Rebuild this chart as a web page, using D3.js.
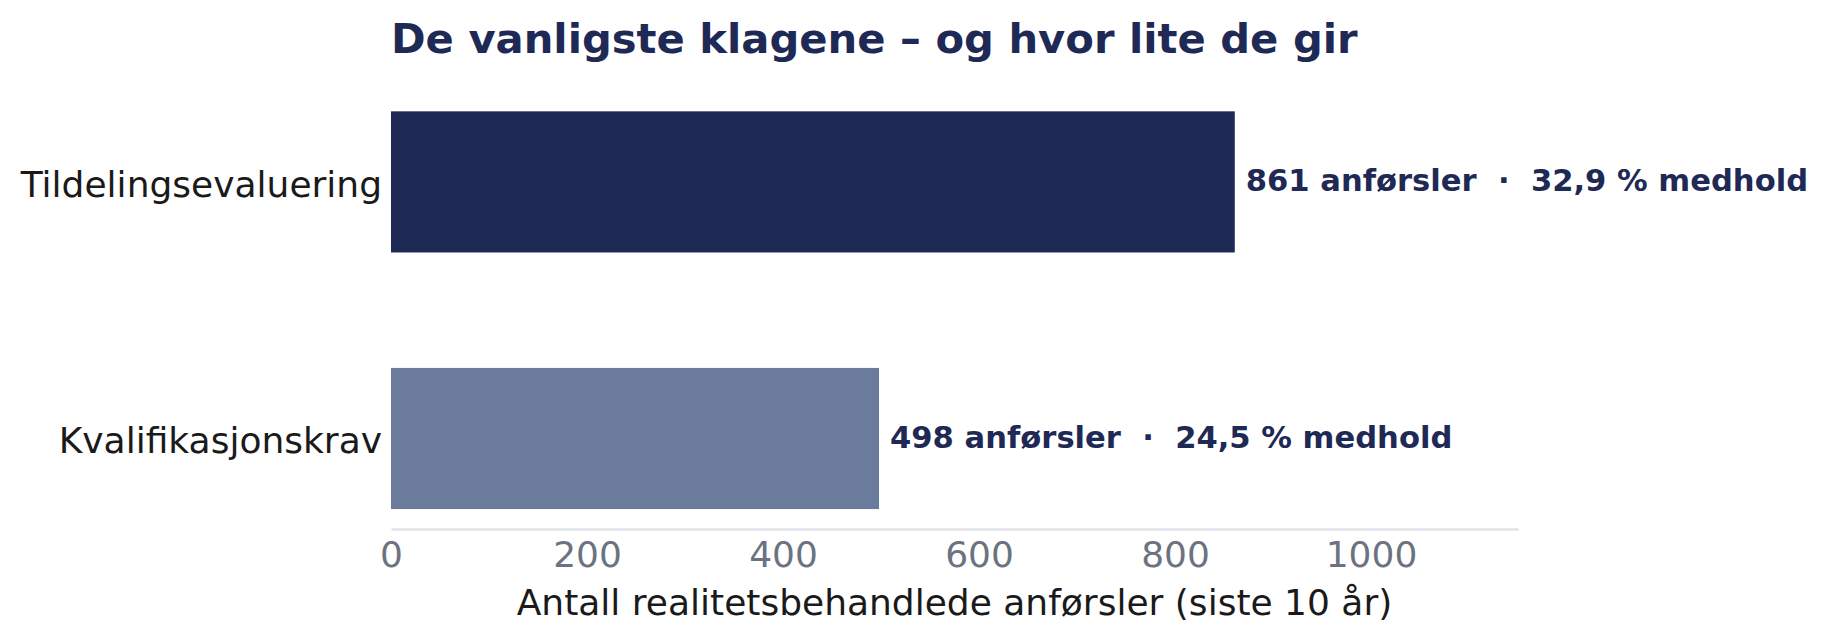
<!DOCTYPE html>
<html>
<head>
<meta charset="utf-8">
<script src="https://cdn.jsdelivr.net/npm/d3@7"></script>
<style>
    body { margin: 0; background: #fff; }
    text { font-family: "DejaVu Sans", sans-serif; }
</style>
</head>
<body>
<svg id="chart" width="1827" height="641"></svg>
<script>
    // data
    let categories = ["Tildelingsevaluering", "Kvalifikasjonskrav"]
    let counts = [861, 498]
    let medhold = [32.9, 24.5]
    let xTicks = [0, 200, 400, 600, 800, 1000]
    let xMax = 1150

    let title = "De vanligste klagene – og hvor lite de gir"
    let xTitle = "Antall realitetsbehandlede anførsler (siste 10 år)"

    let navy = "#1e2a55"
    let barColors = ["#1e2a55", "#6b7b9b"]

    let svg = d3.select("#chart")

    let xScale = d3.scaleLinear()
        .domain([0, xMax])
        .range([391, 1518])

    let yScale = d3.scalePoint()
        .domain(categories)
        .range([181.9, 438.5])

    let barH = 0.55 * yScale.step()

    let rows = categories.map((c, i) => ({ cat: c, count: counts[i], pct: medhold[i], color: barColors[i] }))

    // bars
    svg.append("g")
        .selectAll("rect")
        .data(rows)
        .enter()
        .append("rect")
        .attr("x", xScale(0))
        .attr("y", d => yScale(d.cat) - barH / 2)
        .attr("width", d => xScale(d.count) - xScale(0))
        .attr("height", barH)
        .attr("fill", d => d.color)

    // value labels
    svg.append("g")
        .selectAll("text")
        .data(rows)
        .enter()
        .append("text")
        .attr("x", d => xScale(d.count) + 11)
        .attr("y", d => yScale(d.cat) + 9)
        .style("white-space", "pre")
        .attr("font-size", 30.6)
        .attr("font-weight", "bold")
        .attr("fill", navy)
        .text(d => d.count + " anførsler  ·  " + d.pct.toFixed(1).replace(".", ",") + " % medhold")

    // category labels
    svg.append("g")
        .selectAll("text")
        .data(rows)
        .enter()
        .append("text")
        .attr("x", 382)
        .attr("y", d => yScale(d.cat) + 14.6)
        .attr("text-anchor", "end")
        .attr("font-size", 36)
        .attr("fill", "#1a1a1a")
        .text(d => d.cat)

    // x axis
    let xAxis = svg.append("g")
        .attr("transform", "translate(0,529)")
        .call(d3.axisBottom(xScale)
            .tickValues(xTicks)
            .tickFormat(d3.format("d"))
            .tickSize(0)
            .tickPadding(12.5))

    xAxis.select(".domain")
        .attr("stroke", "#e1e3e9")
        .attr("stroke-width", 2.5)
    xAxis.selectAll("text")
        .attr("font-size", 36)
        .attr("font-family", "DejaVu Sans")
        .attr("fill", "#6b7280")

    svg.append("text")
        .attr("x", (xScale.range()[0] + xScale.range()[1]) / 2)
        .attr("y", 615)
        .attr("text-anchor", "middle")
        .attr("font-size", 36)
        .attr("fill", "#1a1a1a")
        .text(xTitle)

    // title
    svg.append("text")
        .attr("x", 391)
        .attr("y", 53)
        .attr("font-size", 41.7)
        .attr("font-weight", "bold")
        .attr("fill", navy)
        .text(title)
</script>
</body>
</html>
